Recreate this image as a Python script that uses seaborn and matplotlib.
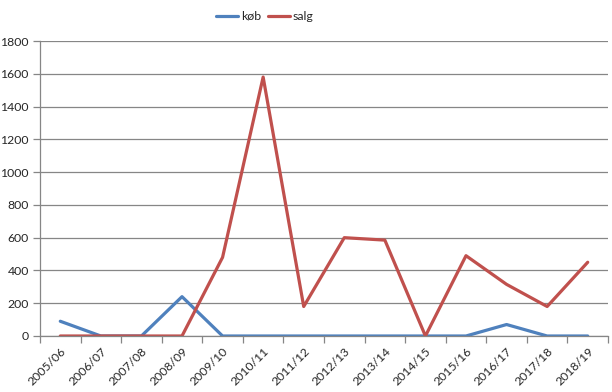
import matplotlib
matplotlib.use("Agg")
import matplotlib.pyplot as plt
import seaborn as sns
import pandas as pd
import numpy as np
from matplotlib.ticker import FixedLocator

categories = ["2005/06", "2006/07", "2007/08", "2008/09", "2009/10", "2010/11", "2011/12",
              "2012/13", "2013/14", "2014/15", "2015/16", "2016/17", "2017/18", "2018/19"]
koeb = [90, 0, 0, 240, 0, 0, 0, 0, 0, 0, 0, 70, 0, 0]
salg = [0, 0, 0, 0, 480, 1580, 180, 600, 585, 0, 490, 315, 180, 450]
yticks = [0, 200, 400, 600, 800, 1000, 1200, 1400, 1600, 1800]

sns.set_style("white")
plt.rcParams['font.family'] = ['Lato', 'DejaVu Sans']

df = pd.DataFrame({
    "x": list(range(len(categories))) * 2,
    "value": koeb + salg,
    "serie": ["køb"] * len(categories) + ["salg"] * len(categories),
})

fig = plt.figure(figsize=(6.12, 3.92), dpi=100)
ax = fig.add_axes([40/612, 56/392, 568/612, 295/392])
sns.lineplot(data=df, x="x", y="value", hue="serie", palette={"køb": "#4F81BD", "salg": "#C0504D"},
             linewidth=2.3, ax=ax, legend=True)

ax.set_xlim(-0.5, len(categories) - 0.5)
ax.set_ylim(0, 1800)
ax.set_yticks(yticks)
ax.set_yticklabels([str(v) for v in yticks], fontsize=8.8)
ax.yaxis.grid(True, color="#868686", linewidth=0.9)
ax.set_axisbelow(True)
ax.set_xticks(range(len(categories)))
ax.set_xticklabels(categories, rotation=45, ha="right", rotation_mode="anchor", fontsize=8.8)
ax.tick_params(axis="x", which="major", length=0, pad=7)
ax.xaxis.set_minor_locator(FixedLocator(np.arange(-0.5, len(categories), 1)))
ax.tick_params(axis="x", which="minor", length=5, color="#868686", width=0.9, direction="out", bottom=True)
ax.tick_params(axis="y", length=5, color="#868686", width=0.9, direction="out", left=True, pad=3)
ax.set_xlabel("")
ax.set_ylabel("")
for s in ["top", "right"]:
    ax.spines[s].set_visible(False)
for s in ["left", "bottom"]:
    ax.spines[s].set_color("#868686")
    ax.spines[s].set_linewidth(0.9)

handles, labels = ax.get_legend_handles_labels()
ax.legend(handles, labels, loc="upper center", bbox_to_anchor=(265/612, 1.0), bbox_transform=fig.transFigure,
          ncol=2, frameon=False, fontsize=8.8, handlelength=1.8, handletextpad=0.2, columnspacing=0.6)

fig.savefig("out.png", dpi=100)
